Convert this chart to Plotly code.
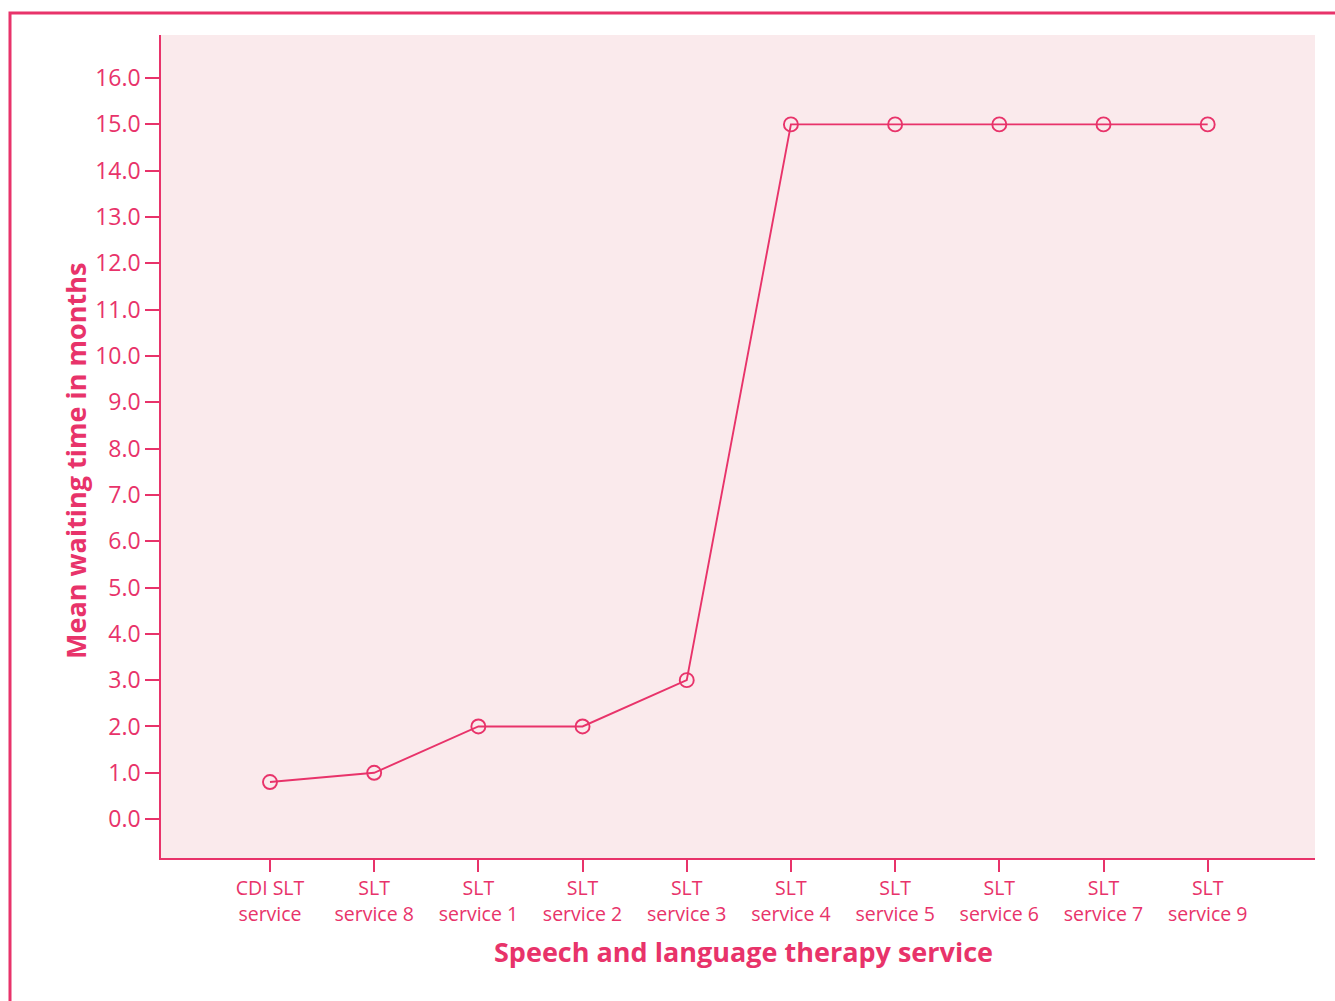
import plotly.graph_objects as go

services = ["CDI SLT<br>service", "SLT<br>service 8", "SLT<br>service 1", "SLT<br>service 2",
            "SLT<br>service 3", "SLT<br>service 4", "SLT<br>service 5", "SLT<br>service 6",
            "SLT<br>service 7", "SLT<br>service 9"]
wait_months = [0.8, 1.0, 2.0, 2.0, 3.0, 15.0, 15.0, 15.0, 15.0, 15.0]
y_ticks = [0, 1, 2, 3, 4, 5, 6, 7, 8, 9, 10, 11, 12, 13, 14, 15, 16]
x_title = "Speech and language therapy service"
y_title = "Mean waiting time in months"

PINK = "#e8336a"
BG = "#faeaec"
FONT = "Open Sans"

W, H = 1335, 1001
L, R, T, B = 161, 20, 35, 143
pw, ph = W - L - R, H - T - B

def px_x(px):
    return (px - L) / pw

def px_y(py):
    return (H - B - py) / ph

fig = go.Figure()
fig.add_trace(go.Scatter(
    x=list(range(len(services))), y=wait_months, mode="lines+markers",
    line=dict(color=PINK, width=1.9),
    marker=dict(symbol="circle-open", size=14, color=PINK, line=dict(width=1.9, color=PINK)),
    showlegend=False, hoverinfo="skip",
))

# outer frame (left and top border lines)
fig.add_shape(type="path", xref="paper", yref="paper",
              path=f"M {px_x(10)} -0.3 L {px_x(10)} {px_y(13)} L 1.1 {px_y(13)}",
              line=dict(color=PINK, width=3))

# axis titles
fig.add_annotation(text=f"<b>{x_title}</b>", xref="paper", yref="paper",
                   x=px_x(743), y=px_y(951), xanchor="center", yanchor="middle",
                   showarrow=False, font=dict(size=27, color=PINK, family=FONT))
fig.add_annotation(text=f"<b>{y_title}</b>", xref="paper", yref="paper",
                   x=px_x(75), y=px_y(461), xanchor="center", yanchor="middle",
                   textangle=-90, showarrow=False, font=dict(size=27, color=PINK, family=FONT))

fig.update_layout(
    width=W, height=H,
    margin=dict(l=L, r=R, t=T, b=B, pad=0),
    paper_bgcolor="white", plot_bgcolor=BG,
    font=dict(family=FONT, color=PINK, size=20),
    xaxis=dict(
        range=[-1.046, 10.03],
        tickmode="array", tickvals=list(range(len(services))), ticktext=services,
        ticks="outside", ticklen=12, tickwidth=2, tickcolor=PINK,
        showline=True, linecolor=PINK, linewidth=2,
        showgrid=False, zeroline=False,
        tickfont=dict(size=19.5, color=PINK, family=FONT),
    ),
    yaxis=dict(
        range=[-0.84, 16.93],
        tickmode="array", tickvals=y_ticks, ticktext=[f"{v:.1f}" for v in y_ticks],
        ticks="outside", ticklen=14, tickwidth=2, tickcolor=PINK,
        showline=True, linecolor=PINK, linewidth=1.5,
        showgrid=False, zeroline=False,
        tickfont=dict(size=23, color=PINK, family=FONT),
    ),
)

fig.write_html("out.html", config={"displayModeBar": False},
               post_script="document.body.style.margin='0';document.body.style.overflow='hidden';")
